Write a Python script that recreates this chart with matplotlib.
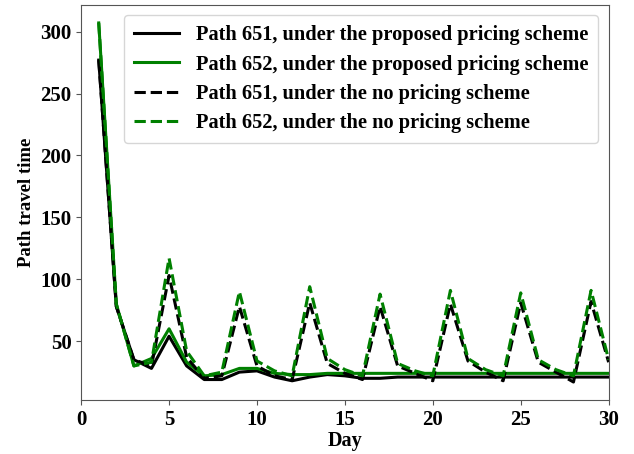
import matplotlib
matplotlib.use('Agg')
import matplotlib.pyplot as plt
import numpy as np

plt.rcParams['font.family'] = ['Liberation Serif', 'DejaVu Serif']
plt.rcParams['font.weight'] = 'bold'

# Day index
days = np.arange(1, 31)

# Path travel time
p651_pricing = [277, 78, 35, 28, 54, 30, 19, 19, 25, 26, 21, 18, 21, 23, 22, 20,
                20, 21, 21, 21, 21, 21, 21, 21, 21, 21, 21, 21, 21, 21]
p652_pricing = [307, 80, 30, 36, 60, 33, 22, 23, 28, 28, 24, 23, 23, 24, 24, 24,
                24, 24, 24, 24, 24, 24, 24, 24, 24, 24, 24, 24, 24, 24]
p651_none = [277, 78, 35, 30, 103, 37, 20, 22, 78, 30, 22, 19, 81, 32, 24, 19,
             78, 30, 24, 18, 80, 34, 25, 18, 81, 33, 25, 17, 82, 33]
p652_none = [307, 80, 30, 33, 117, 42, 22, 25, 90, 34, 26, 22, 94, 36, 27, 22,
             88, 32, 26, 22, 91, 36, 27, 22, 89, 35, 27, 22, 91, 35]

fig = plt.figure(figsize=(6.34, 4.54), dpi=100)
ax = fig.add_axes([0.128, 0.119, 0.832, 0.870])

ax.plot(days, p651_pricing, color='black', lw=2.2, label='Path 651, under the proposed pricing scheme')
ax.plot(days, p652_pricing, color='green', lw=2.2, label='Path 652, under the proposed pricing scheme')
ax.plot(days, p651_none, color='black', lw=2.2, ls='--', label='Path 651, under the no pricing scheme')
ax.plot(days, p652_none, color='green', lw=2.2, ls='--', label='Path 652, under the no pricing scheme')

ax.set_xlim(0, 30)
ax.set_xticks([0, 5, 10, 15, 20, 25, 30])
ax.set_yticks([50, 100, 150, 200, 250, 300])
ax.tick_params(labelsize=15, color='#555555')
for s in ax.spines.values():
    s.set_color('#555555')

ax.set_xlabel('Day', fontsize=14.5, fontweight='bold', labelpad=1)
ax.set_ylabel('Path travel time', fontsize=13.5, fontweight='bold', labelpad=4)

ax.legend(loc='upper right', handlelength=2.2, borderpad=0.5,
          labelspacing=0.45, prop={'weight': 'bold', 'size': 14.7})

fig.savefig('out.png', dpi=100)
